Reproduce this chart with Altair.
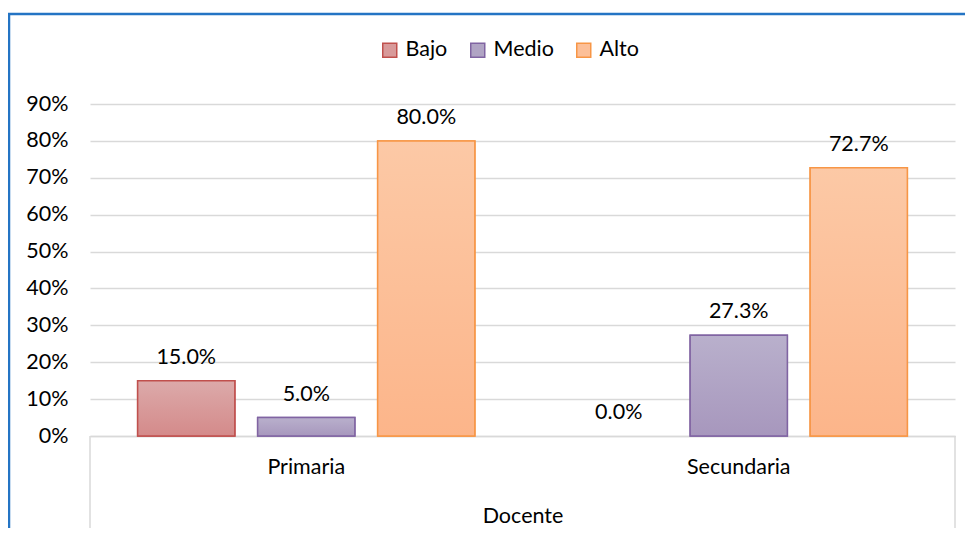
import altair as alt
import pandas as pd

docente = ["Primaria", "Secundaria"]
niveles = ["Bajo", "Medio", "Alto"]
primaria = [0.150, 0.050, 0.800]
secundaria = [0.000, 0.273, 0.727]
y_ticks = [0.0, 0.1, 0.2, 0.3, 0.4, 0.5, 0.6, 0.7, 0.8, 0.9]

fill_top = ["#dcaaaa", "#b9b0cc", "#fcc9a6"]
fill_mid = ["#d89a9a", "#b0a4c4", "#fcbf98"]
fill_bottom = ["#d48a8a", "#a797bd", "#fcb58a"]
strokes = ["#c0504d", "#8064a2", "#f79646"]

rows = []
for d, vals in zip(docente, [primaria, secundaria]):
    for n, v in zip(niveles, vals):
        rows.append({"Docente": d, "Nivel": n, "valor": v})
df = pd.DataFrame(rows)
one = pd.DataFrame({"k": [0]})

W, H = 865, 332
FONT = "Lato"
FS = 21.5
BLUE = "#2474c4"
GRID = "#d9d9d9"

x = alt.X(
    "Docente:N", sort=docente,
    scale=alt.Scale(domain=docente, paddingInner=0, paddingOuter=0),
    axis=alt.Axis(title="Docente", labelAngle=0, ticks=False, grid=False,
                  domainColor=GRID, domainWidth=1.5, labelPadding=20,
                  titlePadding=28),
)
xo = alt.XOffset("Nivel:N", sort=niveles,
                 scale=alt.Scale(domain=niveles, paddingInner=0.19, paddingOuter=0.397))
y = alt.Y("valor:Q", scale=alt.Scale(domain=[0, 0.9], nice=False),
          axis=alt.Axis(format=".0%", values=y_ticks, title=None, domain=False,
                        ticks=False, grid=True, gridColor=GRID, gridWidth=1.5,
                        labelPadding=22))

base = alt.Chart(df).encode(x=x, xOffset=xo, y=y)

leg = alt.Legend(orient="none", legendX=289, legendY=-65, direction="horizontal",
                 title=None, symbolType="square", symbolSize=196,
                 symbolStrokeWidth=1.5, labelFontSize=FS, labelFont=FONT,
                 labelColor="#000", labelOffset=5, columnPadding=19)

bars = base.mark_bar(strokeWidth=1.5).encode(
    fill=alt.Fill("Nivel:N", sort=niveles, scale=alt.Scale(domain=niveles, range=fill_mid), legend=leg),
    stroke=alt.Stroke("Nivel:N", sort=niveles, scale=alt.Scale(domain=niveles, range=strokes), legend=leg),
).transform_filter("datum.valor > 0")

overlays = []
for n, t, b, s in zip(niveles, fill_top, fill_bottom, strokes):
    grad = alt.Gradient(gradient="linear",
                        stops=[alt.GradientStop(color=t, offset=0),
                               alt.GradientStop(color=b, offset=1)],
                        x1=0, x2=0, y1=0, y2=1)
    overlays.append(
        base.mark_bar(fill=grad, stroke=s, strokeWidth=1.5)
        .transform_filter(f"datum.Nivel == '{n}' && datum.valor > 0")
    )

labels = base.mark_text(baseline="alphabetic", dy=-17, fontSize=FS, font=FONT,
                        color="#000").encode(text=alt.Text("valor:Q", format=".1%"))

frame_top = alt.Chart(one).mark_rule(color=BLUE, strokeWidth=2.5).encode(
    x=alt.value(-82), x2=alt.value(900), y=alt.value(-90))
frame_left = alt.Chart(one).mark_rule(color=BLUE, strokeWidth=2.5).encode(
    x=alt.value(-81), y=alt.value(-90), y2=alt.value(440))
box_left = alt.Chart(one).mark_rule(color=GRID, strokeWidth=1.5).encode(
    x=alt.value(0), y=alt.value(H), y2=alt.value(H + 100))
box_right = alt.Chart(one).mark_rule(color=GRID, strokeWidth=1.5).encode(
    x=alt.value(W), y=alt.value(H), y2=alt.value(H + 100))

chart = alt.layer(bars, *overlays, labels, frame_top, frame_left, box_left, box_right).properties(
    width=W, height=H, autosize="none",
    padding={"left": 82, "top": 96, "right": 10, "bottom": 92},
).configure_view(stroke=None).configure_axis(
    labelFont=FONT, titleFont=FONT, labelFontSize=FS, titleFontSize=FS,
    titleFontWeight="normal", labelColor="#000", titleColor="#000",
)

chart.save("out.html", embed_options={"renderer": "svg", "actions": False})
